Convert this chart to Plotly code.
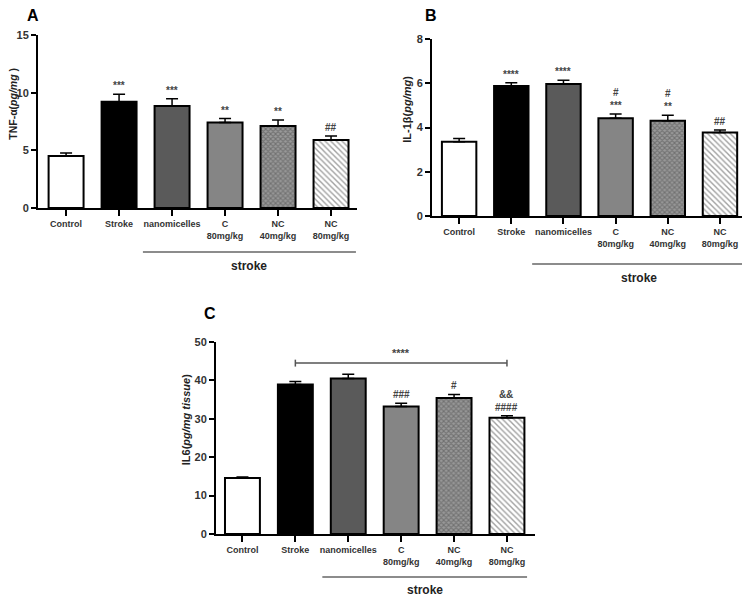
import plotly.graph_objects as go

# the page body keeps its default 8px margin; positions below are picture pixels
OFF = 8
W, H = 742, 592

categories = ["Control", "Stroke", "nanomicelles", "C<br>80mg/kg", "NC<br>40mg/kg", "NC<br>80mg/kg"]

tnf_mean = [4.5, 9.22, 8.85, 7.42, 7.1, 5.9]
tnf_sem = [0.27, 0.64, 0.63, 0.33, 0.53, 0.35]
tnf_marks = ["", "***", "***", "**", "**", "##"]

il1_mean = [3.36, 5.88, 5.97, 4.42, 4.31, 3.77]
il1_sem = [0.14, 0.14, 0.16, 0.19, 0.24, 0.12]
il1_marks = ["", "****", "****", "#<br>***", "#<br>**", "##"]

il6_mean = [14.6, 38.9, 40.5, 33.2, 35.4, 30.3]
il6_sem = [0.25, 0.8, 1.1, 0.85, 0.95, 0.5]
il6_marks = ["", "", "", "###", "#", "&&<br>####"]

fills = ["white", "black", "#5a5a5a", "#858585", "#9a9a9a", "white"]
pat_shapes = ["", "", "", "", "x", "\\"]
pat_fg = ["black", "black", "black", "black", "#333333", "#444444"]

FONT = "Liberation Sans, Arial, sans-serif"

def px_x(p):
    return (p - OFF) / W

def px_y(p):
    return 1 - (p - OFF) / H

def bold(s):
    return "<br>".join("<b>" + part + "</b>" for part in s.split("<br>"))

panels = [
    dict(key="", mean=tnf_mean, sem=tnf_sem, marks=tnf_marks,
         xd=(38, 357), yd=(208, 35), yr=[0, 15], dt=5, xr=[-0.53, 5.49],
         title="TNF-α(<i>pg/mg</i> )", label="A", lab_xy=(33, 15),
         line=(1.45, 5.47, 252), stroke_y=266, title_x=13, tsize=10.5),
    dict(key="2", mean=il1_mean, sem=il1_sem, marks=il1_marks,
         xd=(432, 745), yd=(216, 39), yr=[0, 8], dt=2, xr=[-0.52, 5.48],
         title="IL-1β(<i>pg/mg</i>)", label="B", lab_xy=(431, 15),
         line=(1.4, 5.48, 264), stroke_y=278, title_x=407, tsize=11),
    dict(key="3", mean=il6_mean, sem=il6_sem, marks=il6_marks,
         xd=(216, 535), yd=(534, 342), yr=[0, 50], dt=10, xr=[-0.5, 5.53],
         title="IL6(<i>pg/mg tissue</i>)", label="C", lab_xy=(210, 313),
         line=(1.51, 5.38, 577), stroke_y=590, title_x=186, tsize=11),
]

fig = go.Figure()
annotations = []
shapes = []

for p in panels:
    k = p["key"]
    xa = "x" + k
    ya = "y" + k
    xs = list(range(len(categories)))
    fig.add_trace(go.Bar(
        x=xs, y=p["mean"], xaxis=xa, yaxis=ya, width=0.66,
        marker=dict(
            color=fills,
            line=dict(color="black", width=2),
            pattern=dict(shape=pat_shapes, fgcolor=pat_fg,
                         size=[1, 1, 1, 1, 3.5, 4], solidity=[0.3, 0.3, 0.3, 0.3, 0.5, 0.35]),
        ),
        error_y=dict(type="data", array=p["sem"], arrayminus=[0] * 6, symmetric=False,
                     color="black", thickness=1.5, width=6),
        showlegend=False, hoverinfo="skip",
    ))
    layout_x = dict(
        domain=[px_x(p["xd"][0]), px_x(p["xd"][1])], range=p["xr"],
        tickmode="array", tickvals=xs, ticktext=[bold(c) for c in categories], tickangle=0,
        showline=True, linecolor="black", linewidth=2,
        ticks="outside", ticklen=6, tickwidth=2, tickcolor="black",
        tickfont=dict(family=FONT, size=9, color="#333"),
        showgrid=False, zeroline=False, anchor=ya, fixedrange=True, automargin=False,
    )
    yvals = list(range(p["yr"][0], p["yr"][1] + 1, p["dt"]))
    layout_y = dict(
        domain=[px_y(p["yd"][0]), px_y(p["yd"][1])], range=p["yr"],
        tickmode="array", tickvals=yvals, ticktext=["<b>%d</b>" % v for v in yvals],
        showline=True, linecolor="black", linewidth=2,
        ticks="outside", ticklen=5, tickwidth=2, tickcolor="black",
        tickfont=dict(family=FONT, size=11, color="#333"),
        showgrid=False, zeroline=False, anchor=xa, automargin=False,
    )
    fig.update_layout(**{"xaxis" + k: layout_x, "yaxis" + k: layout_y})

    for i, m in enumerate(p["marks"]):
        if m:
            annotations.append(dict(
                x=i, y=p["mean"][i] + p["sem"][i], xref=xa, yref=ya,
                text=bold(m), showarrow=False, yanchor="bottom", yshift=1,
                font=dict(family=FONT, size=10, color="#444"),
            ))
    annotations.append(dict(
        x=px_x(p["lab_xy"][0]), y=px_y(p["lab_xy"][1]), xref="paper", yref="paper",
        text="<b>" + p["label"] + "</b>", showarrow=False, xanchor="center", yanchor="middle",
        font=dict(family=FONT, size=16, color="black"),
    ))
    annotations.append(dict(
        x=px_x(p["title_x"]), y=(px_y(p["yd"][0]) + px_y(p["yd"][1])) / 2 + 0.03,
        xref="paper", yref="paper", text="<b>" + p["title"] + "</b>", textangle=-90,
        showarrow=False, xanchor="center", yanchor="middle",
        font=dict(family=FONT, size=p["tsize"], color="#222"),
    ))
    x0, x1, ly = p["line"]
    shapes.append(dict(type="line", xref=xa, yref="paper", x0=x0, x1=x1,
                       y0=px_y(ly), y1=px_y(ly), line=dict(color="#666", width=1.5)))
    annotations.append(dict(
        x=(x0 + x1) / 2, y=px_y(p["stroke_y"]), xref=xa, yref="paper",
        text="<b>stroke</b>", showarrow=False, yanchor="middle",
        font=dict(family=FONT, size=12, color="#222"),
    ))

br_y = 44.5
shapes.append(dict(type="line", xref="x3", yref="y3", x0=1, x1=5, y0=br_y, y1=br_y,
                   line=dict(color="#555", width=1.5)))
for bx in (1, 5):
    shapes.append(dict(type="line", xref="x3", yref="y3", x0=bx, x1=bx, y0=br_y - 0.9, y1=br_y + 0.9,
                       line=dict(color="#555", width=1.5)))
annotations.append(dict(x=3, y=br_y, xref="x3", yref="y3", text="<b>****</b>", showarrow=False,
                        yanchor="bottom", yshift=2,
                        font=dict(family=FONT, size=11, color="#444")))

fig.update_layout(
    width=W, height=H, margin=dict(l=0, r=0, t=0, b=0, autoexpand=False),
    paper_bgcolor="white", plot_bgcolor="white",
    annotations=annotations, shapes=shapes, bargap=0.3,
)

fig.write_html("out.html")
